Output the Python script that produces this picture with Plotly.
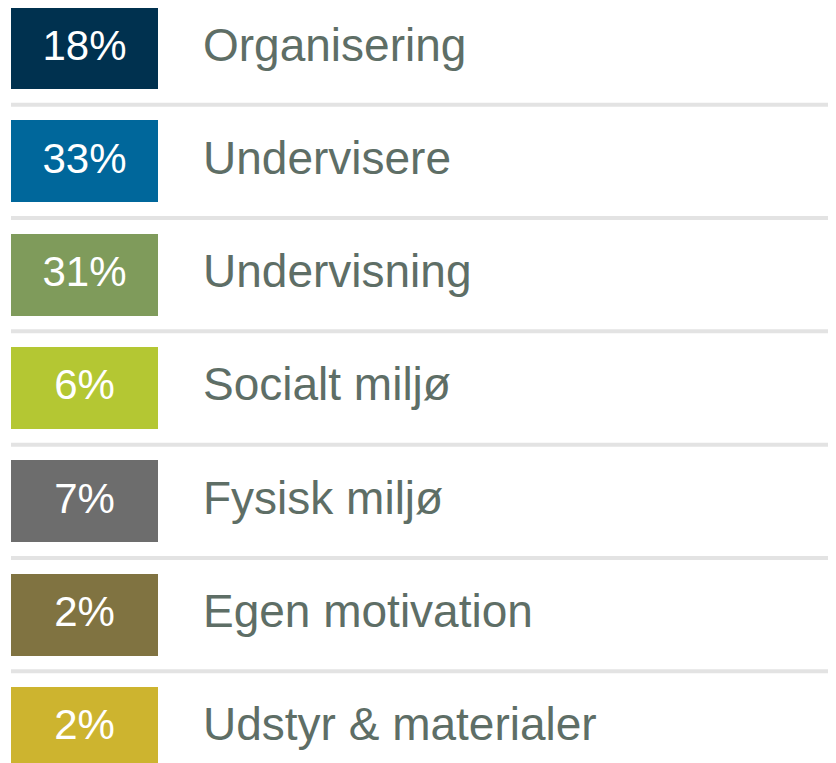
import plotly.graph_objects as go

categories = ["Organisering", "Undervisere", "Undervisning", "Socialt miljø",
              "Fysisk miljø", "Egen motivation", "Udstyr & materialer"]
percent_values = [18, 33, 31, 6, 7, 2, 2]
box_colors = ["#00314f", "#00679b", "#7f9b5b", "#b4c733", "#6d6d6d", "#807341", "#cdb42f"]

# page body has an 8px margin, so the figure is sized/positioned to compensate
W, H = 828, 755
row_pitch = 113.33
first_center = 40
box_left, box_right = 3, 150
box_h = 82
label_x = 195
label_dy = 1 / row_pitch
pct_dy = 1 / row_pitch

rows = list(range(len(categories)))
unit = box_right - box_left

fig = go.Figure()
fig.add_trace(go.Bar(
    y=rows, x=[1] * len(rows), base=0, orientation="h",
    width=box_h / row_pitch,
    marker=dict(color=box_colors, line=dict(width=0)),
    hoverinfo="skip", showlegend=False,
))
fig.add_trace(go.Scatter(
    y=[r + pct_dy for r in rows], x=[0.5] * len(rows),
    mode="text", text=[f"{v}%" for v in percent_values], textposition="middle center",
    textfont=dict(color="white", size=42, family="Liberation Sans"),
    hoverinfo="skip", showlegend=False, cliponaxis=False,
))
fig.add_trace(go.Scatter(
    y=[r + label_dy for r in rows], x=[(label_x - box_left) / unit] * len(rows),
    mode="text", text=categories, textposition="middle right",
    textfont=dict(color="#5e6e66", size=46, family="Liberation Sans"),
    hoverinfo="skip", showlegend=False, cliponaxis=False,
))

for i in rows[:-1]:
    fig.add_shape(type="line", xref="x", yref="y",
                  x0=0, x1=(W - box_left) / unit + 0.1, y0=i + 0.5, y1=i + 0.5,
                  line=dict(color="#e3e3e3", width=4), layer="below")

fig.update_layout(
    width=W, height=H, margin=dict(l=0, r=0, t=0, b=0),
    paper_bgcolor="white", plot_bgcolor="white",
    xaxis=dict(range=[-box_left / unit, (W - box_left) / unit], visible=False, fixedrange=True),
    yaxis=dict(range=[(H - first_center) / row_pitch, -first_center / row_pitch],
               visible=False, fixedrange=True),
    bargap=0,
)
fig.write_html("out.html")
